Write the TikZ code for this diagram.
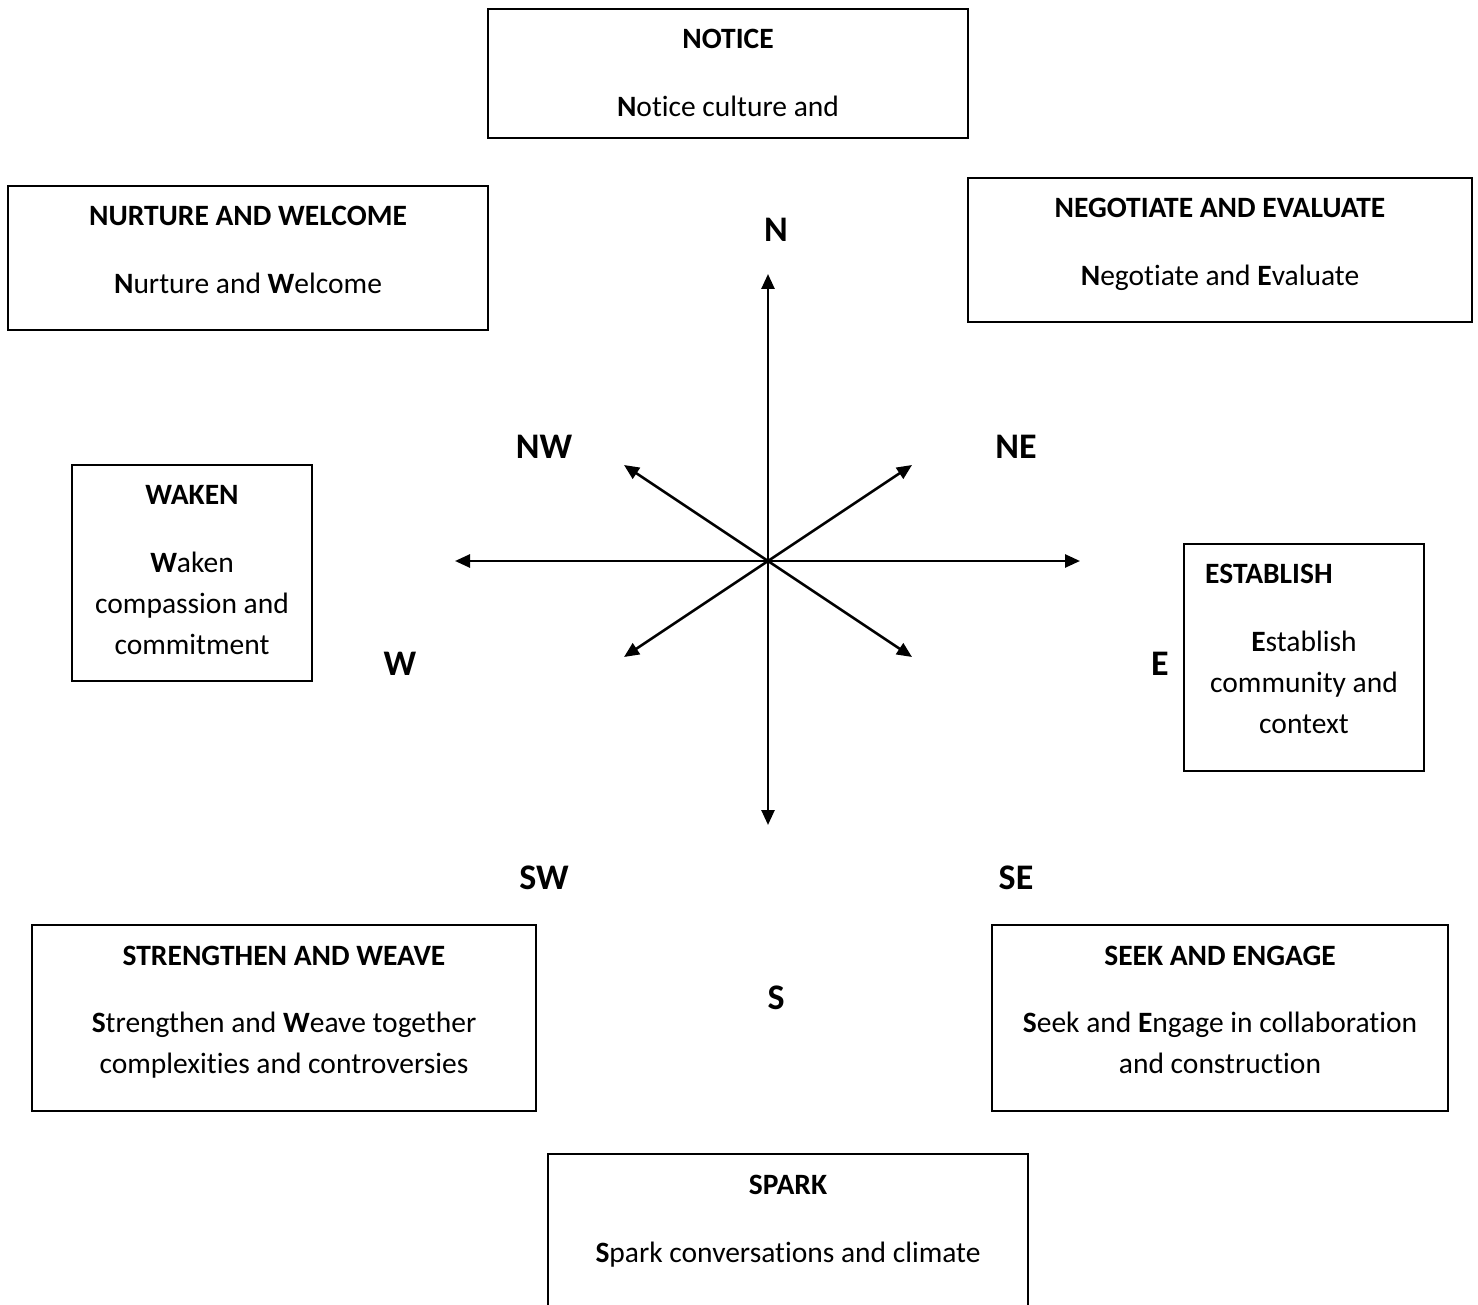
\documentclass[tikz,border=0pt]{standalone}
\usepackage{fontspec}
\setmainfont{Carlito}[Ligatures=NoCommon]
\usetikzlibrary{arrows.meta}
\begin{document}
\begin{tikzpicture}[x=1pt,y=-1pt,
  box/.style={draw=black,line width=2pt,rectangle,inner sep=0pt},
  txt/.style={font=\fontsize{29.5}{41}\selectfont,inner sep=0pt,anchor=base},
  ttl/.style={font=\fontsize{29.5}{41}\selectfont\bfseries,inner sep=0pt,anchor=base},
  dirlbl/.style={font=\fontsize{36}{40}\selectfont\bfseries,inner sep=0pt,anchor=base},
  arr/.style={line width=2.6pt,-{Triangle[length=15pt,width=13pt]}}]
\useasboundingbox (0,0) rectangle (1478,1305);
% boxes
\node[box,minimum width=480pt,minimum height=129pt] (notice) at (728,73.5) {};
\node[box,minimum width=480pt,minimum height=144pt] (nurture) at (248,258) {};
\node[box,minimum width=504pt,minimum height=144pt] (negotiate) at (1220,250) {};
\node[box,minimum width=240pt,minimum height=216pt] (waken) at (192,573) {};
\node[box,minimum width=240pt,minimum height=227pt] (establish) at (1304,657.5) {};
\node[box,minimum width=504pt,minimum height=186pt] (strengthen) at (284,1018) {};
\node[box,minimum width=456pt,minimum height=186pt] (seek) at (1220,1018) {};
\node[box,minimum width=480pt,minimum height=200pt] (spark) at (788,1254) {};
% box texts
\node[ttl] (noticeT) at (728,49) {NOTICE};
\node[txt] (noticeB) at (728,117) {\textbf{N}otice culture and};
\node[ttl] (nurtureT) at (248,226) {NURTURE AND WELCOME};
\node[txt] (nurtureB) at (248,294) {\textbf{N}urture and \textbf{W}elcome};
\node[ttl] (negotiateT) at (1220,218) {NEGOTIATE AND EVALUATE};
\node[txt] (negotiateB) at (1220,286) {\textbf{N}egotiate and \textbf{E}valuate};
\node[ttl] (wakenT) at (192,504) {WAKEN};
\node[txt] (wakenB1) at (192,572) {\textbf{W}aken};
\node[txt] (wakenB2) at (192,613) {compassion and};
\node[txt] (wakenB3) at (192,654) {commitment};
\node[ttl,anchor=base west] (establishT) at (1205,583) {ESTABLISH};
\node[txt] (establishB1) at (1304,651) {\textbf{E}stablish};
\node[txt] (establishB2) at (1304,692) {community and};
\node[txt] (establishB3) at (1304,733) {context};
\node[ttl] (strengthenT) at (284,965) {STRENGTHEN AND WEAVE};
\node[txt] (strengthenB1) at (284,1032) {\textbf{S}trengthen and \textbf{W}eave together};
\node[txt] (strengthenB2) at (284,1073) {complexities and controversies};
\node[ttl] (seekT) at (1220,965) {SEEK AND ENGAGE};
\node[txt] (seekB1) at (1220,1032) {\textbf{S}eek and \textbf{E}ngage in collaboration};
\node[txt] (seekB2) at (1220,1073) {and construction};
\node[ttl] (sparkT) at (788,1194) {SPARK};
\node[txt] (sparkB) at (788,1262) {\textbf{S}park conversations and climate};
% direction labels
\node[dirlbl] (lN) at (776,242) {N};
\node[dirlbl] (lNW) at (544,458) {NW};
\node[dirlbl] (lNE) at (1016,458) {NE};
\node[dirlbl] (lW) at (400,675) {W};
\node[dirlbl] (lE) at (1160,675) {E};
\node[dirlbl] (lSW) at (544,889) {SW};
\node[dirlbl] (lSE) at (1016,889) {SE};
\node[dirlbl] (lS) at (776,1009) {S};
% compass arrows
\coordinate (c) at (768,561);
\coordinate (pN) at (768,274);
\coordinate (pS) at (768,825);
\coordinate (pW) at (455,561);
\coordinate (pE) at (1080,561);
\coordinate (pNW) at (624,465);
\coordinate (pNE) at (912,465);
\coordinate (pSW) at (624,657);
\coordinate (pSE) at (912,657);
\foreach \p in {pN,pS,pW,pE,pNW,pNE,pSW,pSE} \draw[arr] (c) -- (\p);
\end{tikzpicture}
\end{document}
